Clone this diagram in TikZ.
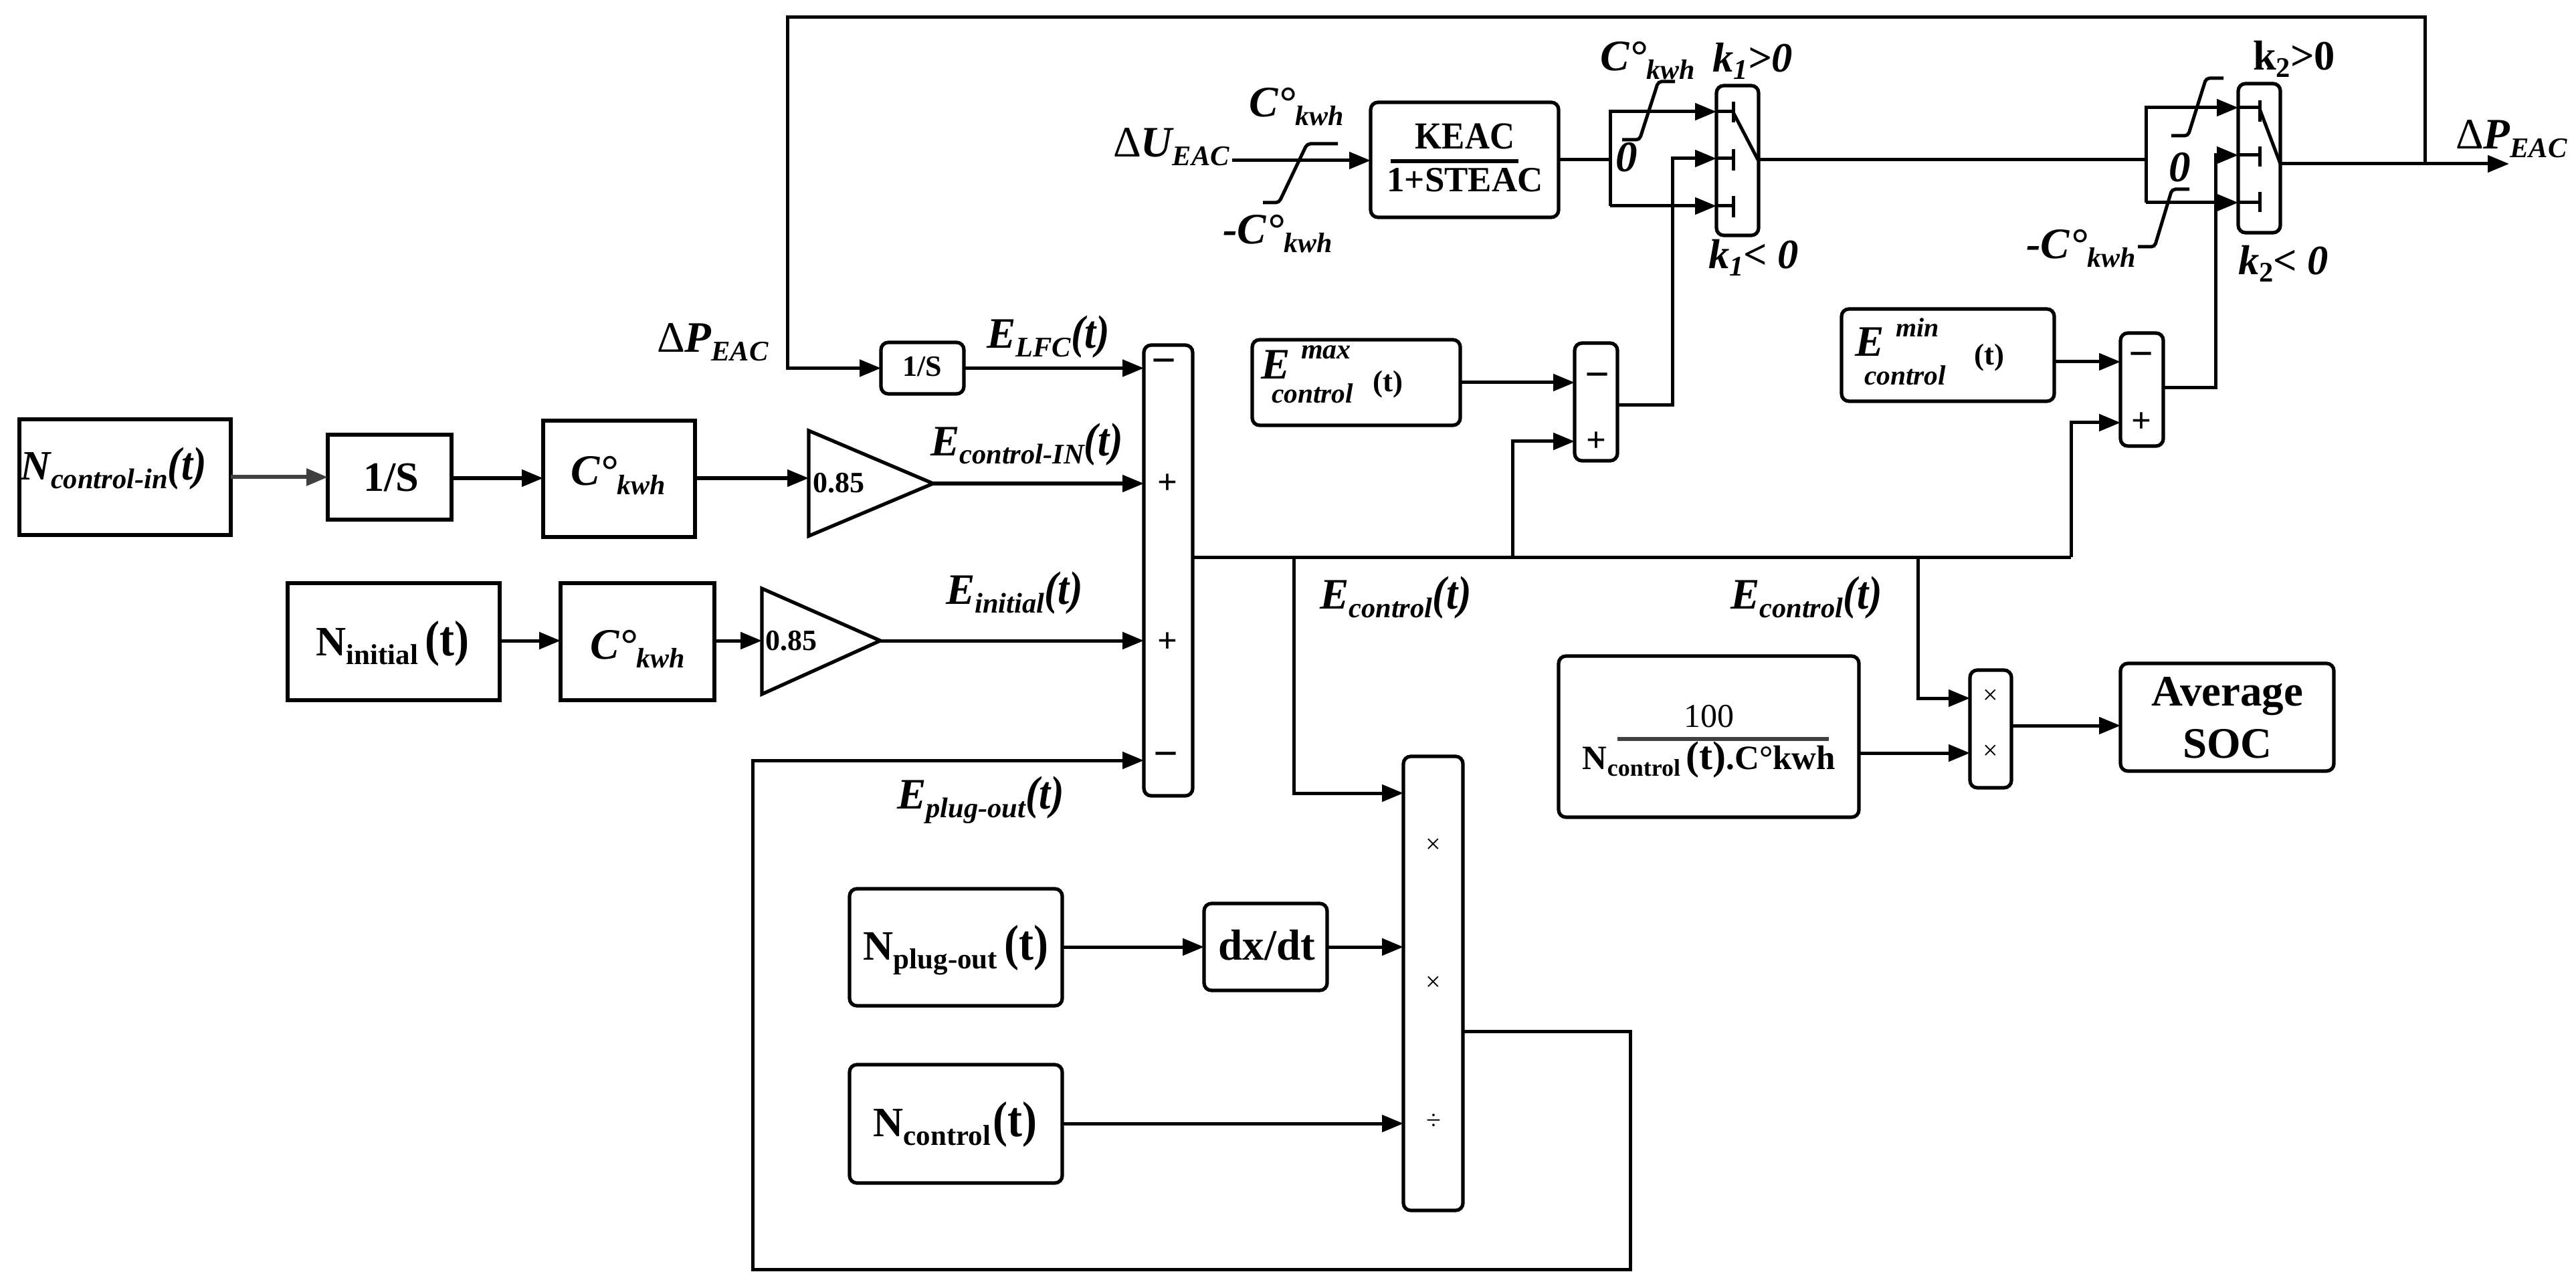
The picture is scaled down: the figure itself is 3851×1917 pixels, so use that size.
\documentclass[tikz,border=0pt]{standalone}
\usepackage{graphicx}
\usepackage{fontspec}
\setmainfont{Liberation Serif}
\usetikzlibrary{arrows.meta}
\newcommand\fs[1]{\fontsize{#1}{#1}\selectfont}
\newcommand\BI{\bfseries\itshape}
\newcommand\tparen[1]{\scalebox{.88}[1]{\fs{#1}(t)}}
\newcommand\Ev[2]{{\BI\fs{13}#1\raisebox{-2.6pt}{\fs{8.5}#2}\tparen{14}}}
\newcommand\Nv[3]{{\bfseries\fs{12.5}#1\raisebox{-2.6pt}{\fs{8.6}#2}#3\tparen{15}}}
\newcommand\Ckwh{{\BI\fs{13}C°\raisebox{-2.6pt}{\fs{8.4}kwh}}}
\newcommand\blk[9]{%
 \pgfmathsetmacro\bw{(#5-#3)*0.2}\pgfmathsetmacro\bh{(#6-#4)*0.2}%
 \pgfmathsetmacro\bl{((#4+#6)/2-#8)*0.2}\pgfmathsetmacro\bd{(#7-(#3+#5)/2)*0.2}%
 \node[#2,minimum width=\bw pt,minimum height=\bh pt] (#1) at ({(#3+#5)/2},{(#4+#6)/2})
  {\smash{\raisebox{\bl pt}{\makebox[0pt][c]{\kern\bd pt\kern\bd pt #9}}}};}
\tikzset{
 x=0.2pt,y=-0.2pt,
 wire/.style={line width=1pt,line join=miter},
 arr/.style={wire,-{Triangle[length=6.4pt,width=5pt]}},
 sq/.style={draw,line width=1.05pt,inner sep=0pt,outer sep=0pt},
 rd/.style={sq,rounded corners=2.2pt},
 lab/.style={inner sep=0pt,outer sep=0pt,anchor=base west},
 mid/.style={inner sep=0pt,outer sep=0pt,anchor=base},
 sign/.style={inner sep=0pt,outer sep=0pt},
 sat/.style={line width=1pt,rounded corners=1pt},
}
\begin{document}
\begin{tikzpicture}
\path[use as bounding box,fill=white] (0,0) rectangle (3851,1917);
% left column
\blk{nin}{sq}{29}{627}{345}{800}{170}{717}{{\BI\fs{12.5}N\raisebox{-2.6pt}{\fs{8.5}control-in}\tparen{14}}}
\blk{intA}{sq}{490}{650}{675}{777}{585}{734}{{\bfseries\fs{12.5}1/S}}
\blk{cA}{sq}{812}{629}{1039}{803}{924}{726}{\Ckwh}
\draw[line width=1.05pt,line join=miter] (1209,644) -- (1395,723) -- (1209,801.5) -- cycle;
\coordinate (gAout) at (1395,723);
\node[sign,font=\bfseries\fs{8.8}] (gA) at (1254,722) {0.85};
\blk{nini}{sq}{430}{872}{747}{1047}{587}{980}{\Nv{N}{initial}{\,}}
\blk{cB}{sq}{838}{872}{1068}{1047}{953}{985}{\Ckwh}
\draw[line width=1.05pt,line join=miter] (1139,880) -- (1316,958) -- (1139,1038) -- cycle;
\coordinate (gBout) at (1316,958);
\node[sign,font=\bfseries\fs{8.8}] (gB) at (1183,958) {0.85};
\blk{intB}{rd}{1317}{512}{1441}{589}{1379}{563}{{\bfseries\fs{8.8}1/S}}
% main sum
\blk{sumM}{rd}{1710}{516}{1783}{1190}{1746}{853}{}
\node[sign,font=\bfseries\fs{13}] (mA) at (1740,549) {−};
\node[sign,font=\bfseries\fs{10.5}] (pA) at (1745,724) {+};
\node[sign,font=\bfseries\fs{10.5}] (pB) at (1745,961) {+};
\node[sign,font=\bfseries\fs{13}] (mB) at (1743,1137) {−};
% product bar
\blk{mulA}{rd}{2098}{1131}{2187}{1810}{2142}{1470}{}
\node[sign,font=\fs{8}] (xA) at (2143,1265) {×};
\node[sign,font=\fs{8}] (xB) at (2143,1471) {×};
\node[sign,font=\fs{8}] (xC) at (2143,1677) {÷};
\blk{npl}{rd}{1270}{1329}{1588}{1504}{1429}{1435}{\Nv{N}{plug-out}{\,}}
\blk{dxdt}{rd}{1800}{1351}{1984}{1481}{1894}{1435}{{\bfseries\fs{13}dx/dt}}
\blk{nctl}{rd}{1270}{1592}{1588}{1769}{1428}{1699}{\Nv{N}{control}{\kern0.6pt}}
% top row
\blk{keac}{rd}{2049}{153}{2330}{325}{2190}{239}{{\bfseries\smash{\makebox[0pt][c]{\raisebox{3.2pt}{\scalebox{.9}[1]{\fs{11.4}KEAC}}}}\smash{\makebox[0pt][c]{\raisebox{-9.6pt}{\fs{10.6}1+STEAC}}}}}
\draw[line width=1.05pt] (2079,241) -- (2270,241);
\blk{swA}{rd}{2566}{128}{2629}{352}{2597}{240}{}
\blk{swB}{rd}{3346}{125}{3409}{348}{3377}{236}{}
% E max / E min
\blk{emax}{rd}{1872}{508}{2183}{636}{2028}{572}{}
\node[lab] (emaxt) at (1885,567) {\makebox[60pt][l]{\BI\rlap{\fs{13}E}\rlap{\kern12pt\raisebox{6pt}{\fs{8.4}max}}\rlap{\kern3.2pt\raisebox{-7.2pt}{\fs{8.3}control}}\rlap{\kern33.4pt\raisebox{-3.6pt}{\bfseries\upshape\fs{9}(t)}}}};
\blk{emin}{rd}{2753}{462}{3071}{600}{2912}{531}{}
\node[lab] (emint) at (2773,533) {\makebox[60pt][l]{\BI\rlap{\fs{13}E}\rlap{\kern12.2pt\raisebox{5.8pt}{\fs{8}min}}\rlap{\kern2.8pt\raisebox{-8.6pt}{\fs{8.3}control}}\rlap{\kern35.6pt\raisebox{-2.6pt}{\bfseries\upshape\fs{9}(t)}}}};
\blk{sumA}{rd}{2354}{513}{2418}{689}{2386}{600}{}
\node[sign,font=\bfseries\fs{13}] (mC) at (2388,570) {−};
\node[sign,font=\bfseries\fs{10.5}] (pC) at (2386,661) {+};
\blk{sumB}{rd}{3170}{498}{3234}{667}{3201}{580}{}
\node[sign,font=\bfseries\fs{13}] (mD) at (3201,539) {−};
\node[sign,font=\bfseries\fs{10.5}] (pD) at (3201,632) {+};
% SOC part
\blk{frac}{rd}{2330}{981}{2779}{1222}{2555}{1101.5}{{\smash{\makebox[0pt][c]{\raisebox{2.9pt}{\fs{10}100}}}\bfseries\smash{\makebox[0pt][c]{\raisebox{-9.7pt}{\fs{10.2}N\raisebox{-2pt}{\fs{7.2}control}\,\fs{12}(t)\fs{10.2}.C°kwh}}}}}
\draw[line width=1.1pt,color=black!75] (2418,1105) -- (2734,1105);
\blk{mulB}{rd}{2945}{1002}{3007}{1178}{2976}{1090}{}
\node[sign,font=\fs{8}] (xD) at (2976,1042) {×};
\node[sign,font=\fs{8}] (xE) at (2976,1125) {×};
\blk{avg}{rd}{3170}{992}{3489}{1153}{3330}{1072}{{\bfseries\fs{13}\smash{\makebox[0pt][c]{\raisebox{3.4pt}{Average}}}\smash{\makebox[0pt][c]{\raisebox{-12.2pt}{SOC}}}}}
% labels
\node[lab] (lELFC) at (1475,521) {\Ev{E}{LFC}};
\node[lab] (lEcin) at (1391,681) {\Ev{E}{control-IN}};
\node[lab] (lEini) at (1414,903) {\Ev{E}{initial}};
\node[lab] (lEplg) at (1341,1209) {\Ev{E}{plug-out}};
\node[lab] (lEcA) at (1973,910) {\Ev{E}{control}};
\node[lab] (lEcB) at (2587,910) {\Ev{E}{control}};
\node[lab] (lPa) at (982,527) {{\fs{13}Δ}{\BI\fs{13}P\raisebox{-2.6pt}{\fs{8.5}EAC}}};
\node[lab] (lPb) at (3671,223) {{\fs{13}Δ}{\BI\fs{13}P\raisebox{-2.6pt}{\fs{8.5}EAC}}};
\node[lab] (lU) at (1664,235) {{\fs{13}Δ}{\BI\fs{13}U\raisebox{-2.6pt}{\fs{8.5}EAC}}};
\node[lab] (lCa) at (1867,175) {\Ckwh};
\node[lab] (lCb) at (1828,365) {{\BI\fs{13}-}\Ckwh};
\node[lab] (lCc) at (2392,106) {\Ckwh};
\node[lab] (lCd) at (3029,387) {{\BI\fs{13}-}\Ckwh};
\node[lab] (lkA) at (2560,108) {{\BI\fs{12.5}k\raisebox{-2.2pt}{\fs{8.5}1}>0}};
\node[lab] (lkB) at (2554,402) {{\BI\fs{12.5}k\raisebox{-2.2pt}{\fs{8.5}1}< 0}};
\node[lab] (lkC) at (3368,105) {{\bfseries\fs{12.5}k\raisebox{-2.2pt}{\fs{8.5}2}>0}};
\node[lab] (lkD) at (3346,411) {{\BI\fs{12.5}k\raisebox{-2.2pt}{\upshape\fs{8.5}2}< 0}};
\node[mid,font=\BI\fs{13}] (zA) at (2432,257) {0};
\node[mid,font=\BI\fs{13}] (zB) at (3259,272) {0};
% saturation symbols
\draw[sat] (1888,303) -- (1912,303) -- (1954,215) -- (2000,215);
\draw[sat] (2425,209) -- (2451,209) -- (2479,122) -- (2504,122);
\draw[sat] (3246,203) -- (3271,203) -- (3298,117) -- (3324,117);
\draw[sat] (3196,369) -- (3221,369) -- (3247,283) -- (3273,283);
% named points
\coordinate (dU) at (1842,240);
\coordinate (jA) at (2407,239);
\coordinate (jB) at (3208,239);
\coordinate (cAa) at (2591,167);
\coordinate (cAb) at (2591,237);
\coordinate (cAc) at (2591,308);
\coordinate (cBa) at (3378,161);
\coordinate (cBb) at (3378,232);
\coordinate (cBc) at (3378,303);
\coordinate (wA) at (2628,239);
\coordinate (wB) at (3409,245);
\coordinate (outP) at (3751,245);
\coordinate (busL) at (1783,833);
\coordinate (busR) at (3096,833);
% contacts and wipers
\foreach \p/\a/\b in {cAa/152/183,cAb/223/255,cAc/293/325}{\draw[wire] (\p |- 0,\a) -- (\p |- 0,\b);}
\foreach \p/\a/\b in {cBa/150/182,cBb/219/249,cBc/287/317}{\draw[wire] (\p |- 0,\a) -- (\p |- 0,\b);}
\draw[wire] (2591,168) -- (wA);
\draw[wire] (3378,163) -- (wB);
\foreach \p in {cAa,cAb,cAc}{\draw[wire] (swA.west |- \p) -- (\p);}
\foreach \p in {cBa,cBb,cBc}{\draw[wire] (swB.west |- \p) -- (\p);}
% connectors
\draw[-{Triangle[length=6.4pt,width=5pt]},line width=1.2pt,color=black!75] (nin.east |- 0,713.5) -- (intA.west |- 0,713.5);
\draw[arr] (intA.east |- 0,715) -- (cA.west |- 0,715);
\draw[arr] (cA.east |- 0,715) -- (1209,715);
\draw[arr] (gAout) -- (sumM.west |- gAout);
\draw[arr] (nini.east |- 0,958) -- (cB.west |- 0,958);
\draw[arr] (cB.east |- 0,958) -- (1139,958);
\draw[arr] (gBout) -- (sumM.west |- gBout);
\draw[arr] (intB.east) -- (sumM.west |- intB.east);
% feedback loop
\draw[arr] (3625,245) -- (3625,26) -- (1177,26) -- (1177,550.5) -- (intB.west);
% plug out loop
\draw[arr] (mulA.east |- 0,1542) -- (2437,1542) -- (2437,1898) -- (1125,1898) -- (1125,1137) -- (sumM.west |- 0,1137);
% bus
\draw[wire] (sumM.east |- busL) -- (busR);
\draw[arr] (1934,833) -- (1934,1186) -- (mulA.west |- 0,1186);
\draw[arr] (2867,833) -- (2867,1044) -- (mulB.west |- 0,1044);
\draw[arr] (2261,833) -- (2261,660) -- (sumA.west |- 0,660);
\draw[arr] (busR) -- (3096,632) -- (sumB.west |- 0,632);
\draw[arr] (npl.east |- 0,1416) -- (dxdt.west |- 0,1416);
\draw[arr] (dxdt.east |- 0,1416) -- (mulA.west |- 0,1416);
\draw[arr] (nctl.east |- 0,1680) -- (mulA.west |- 0,1680);
\draw[arr] (frac.east |- 0,1126) -- (mulB.west |- 0,1126);
\draw[arr] (mulB.east |- 0,1085) -- (avg.west |- 0,1085);
% top path
\draw[arr] (dU) -- (keac.west |- dU);
\draw[wire] (keac.east |- jA) -- (jA);
\draw[arr] (2407,308) -- (2407,167) -- (swA.west |- cAa);
\draw[arr] (2407,308) -- (swA.west |- cAc);
\draw[wire] (wA) -- (jB);
\draw[arr] (jB |- 0,303) -- (jB |- 0,161) -- (swB.west |- cBa);
\draw[arr] (jB |- 0,303) -- (swB.west |- cBc);
\draw[arr] (wB) -- (outP);
\draw[arr] (emax.east |- 0,572) -- (sumA.west |- 0,572);
\draw[arr] (emin.east |- 0,541) -- (sumB.west |- 0,541);
\draw[arr] (sumA.east |- 0,606) -- (2500,606) -- (2500,237) -- (swA.west |- cAb);
\draw[arr] (sumB.east |- 0,580) -- (3312,580) -- (3312,232) -- (swB.west |- cBb);
\end{tikzpicture}
\end{document}
